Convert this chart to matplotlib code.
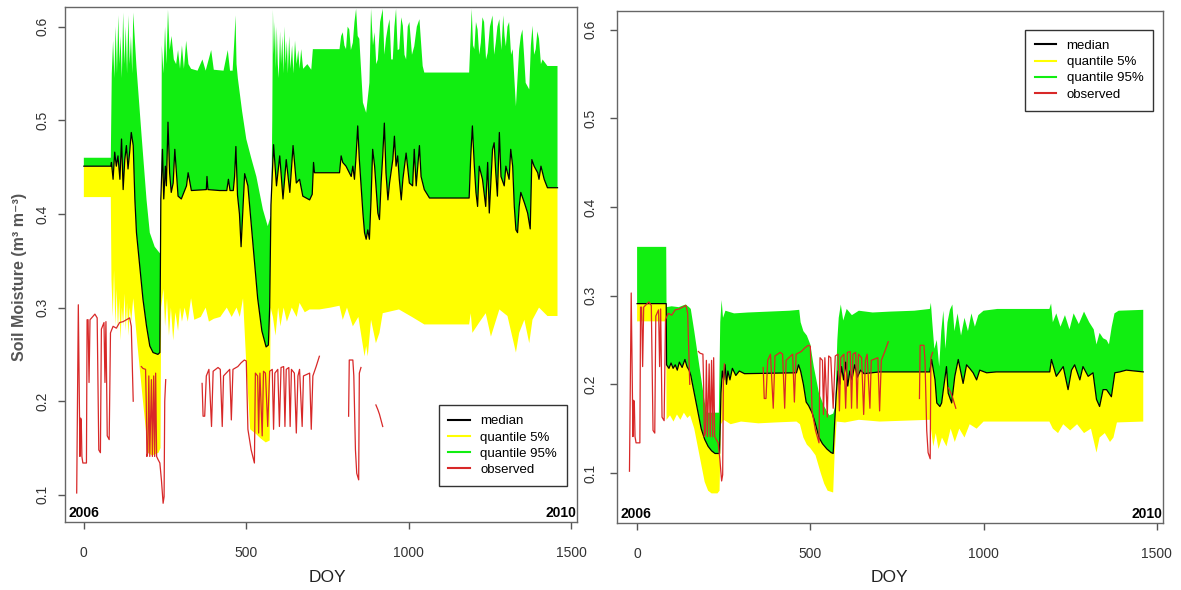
import numpy as np
import matplotlib.pyplot as plt
from matplotlib.lines import Line2D

plt.rcParams['font.family'] = ['Liberation Sans', 'DejaVu Sans']

# ---- left panel: quantiles (day, value) ----
lq95_day = [0, 83, 86, 90, 94, 98, 102, 106, 110, 113, 117, 121, 125, 129, 133, 137, 141, 145, 149, 152,
            162, 177, 193, 203, 218, 234, 238, 240, 245, 250, 254, 259, 264, 270, 277, 284, 290, 296, 302,
            308, 315, 322, 330, 350, 365, 375, 392, 400, 430, 443, 450, 458, 464, 467, 470, 474, 487, 500,
            515, 531, 551, 566, 577, 580, 582, 585, 588, 591, 594, 597, 600, 604, 607, 611, 614, 618, 621,
            625, 628, 632, 636, 641, 645, 650, 655, 660, 664, 669, 675, 688, 700, 705, 787, 792, 797, 802,
            807, 812, 817, 822, 828, 833, 838, 843, 848, 859, 869, 879, 884, 890, 895, 900, 905, 912, 920,
            925, 930, 936, 941, 946, 951, 956, 961, 966, 971, 977, 982, 987, 992, 997, 1002, 1010, 1017,
            1025, 1033, 1043, 1048, 1186, 1194, 1198, 1202, 1207, 1212, 1217, 1222, 1227, 1232, 1238, 1243,
            1250, 1258, 1263, 1268, 1273, 1279, 1285, 1291, 1295, 1299, 1304, 1309, 1315, 1320, 1330, 1340,
            1345, 1350, 1355, 1360, 1371, 1376, 1381, 1386, 1391, 1396, 1401, 1407, 1412, 1427, 1458]
lq95_val = [0.460, 0.460, 0.55, 0.585, 0.545, 0.60, 0.55, 0.612, 0.56, 0.59, 0.545, 0.615, 0.56, 0.60, 0.55,
            0.612, 0.56, 0.59, 0.55, 0.615, 0.557, 0.487, 0.415, 0.380, 0.365, 0.358, 0.36, 0.58, 0.55, 0.60,
            0.56, 0.618, 0.575, 0.59, 0.565, 0.56, 0.575, 0.555, 0.58, 0.555, 0.585, 0.56, 0.555, 0.553, 0.565,
            0.553, 0.575, 0.554, 0.553, 0.575, 0.553, 0.553, 0.59, 0.612, 0.56, 0.545, 0.51, 0.48, 0.46, 0.44,
            0.405, 0.387, 0.40, 0.50, 0.618, 0.57, 0.605, 0.555, 0.60, 0.56, 0.545, 0.595, 0.56, 0.59, 0.55,
            0.60, 0.56, 0.585, 0.55, 0.59, 0.555, 0.58, 0.55, 0.585, 0.56, 0.575, 0.555, 0.576, 0.555, 0.56,
            0.554, 0.576, 0.576, 0.59, 0.594, 0.58, 0.576, 0.60, 0.597, 0.575, 0.583, 0.605, 0.619, 0.59,
            0.587, 0.519, 0.508, 0.540, 0.619, 0.58, 0.594, 0.56, 0.565, 0.605, 0.619, 0.57, 0.587, 0.60,
            0.608, 0.565, 0.565, 0.60, 0.619, 0.575, 0.576, 0.61, 0.601, 0.57, 0.565, 0.60, 0.605, 0.57, 0.579,
            0.60, 0.608, 0.558, 0.551, 0.551, 0.619, 0.58, 0.576, 0.605, 0.597, 0.57, 0.583, 0.61, 0.605, 0.565,
            0.572, 0.60, 0.612, 0.57, 0.583, 0.60, 0.608, 0.575, 0.612, 0.59, 0.579, 0.60, 0.605, 0.57, 0.576,
            0.515, 0.576, 0.59, 0.597, 0.57, 0.540, 0.533, 0.58, 0.601, 0.57, 0.576, 0.595, 0.587, 0.56, 0.565,
            0.558, 0.558]

lmed_day = [0, 83, 85, 90, 95, 100, 105, 111, 116, 121, 126, 131, 136, 141, 146, 152, 157, 162, 172, 182,
            193, 203, 213, 228, 234, 237, 242, 246, 251, 254, 259, 264, 269, 275, 280, 290, 300, 316, 321,
            331, 377, 379, 382, 418, 440, 445, 450, 460, 464, 468, 473, 479, 484, 489, 495, 505, 520, 535,
            548, 561, 568, 572, 576, 584, 593, 603, 613, 623, 634, 644, 654, 664, 674, 695, 703, 707, 710,
            787, 792, 797, 807, 817, 823, 828, 833, 838, 843, 848, 859, 864, 869, 874, 879, 884, 889, 895,
            905, 910, 915, 920, 925, 930, 936, 941, 951, 956, 961, 966, 971, 977, 982, 992, 1002, 1012,
            1017, 1023, 1028, 1033, 1038, 1048, 1064, 1186, 1191, 1196, 1202, 1207, 1212, 1217, 1227, 1237,
            1243, 1248, 1258, 1263, 1268, 1273, 1279, 1284, 1294, 1299, 1309, 1314, 1320, 1325, 1330, 1335,
            1340, 1345, 1356, 1366, 1374, 1379, 1386, 1397, 1401, 1407, 1417, 1427, 1458]
lmed_val = [0.451, 0.451, 0.455, 0.437, 0.466, 0.451, 0.462, 0.437, 0.480, 0.426, 0.458, 0.473, 0.448, 0.466,
            0.487, 0.473, 0.416, 0.380, 0.344, 0.309, 0.280, 0.259, 0.252, 0.250, 0.252, 0.416, 0.469, 0.416,
            0.451, 0.430, 0.498, 0.444, 0.423, 0.433, 0.469, 0.419, 0.416, 0.430, 0.444, 0.425, 0.426, 0.44,
            0.426, 0.425, 0.425, 0.437, 0.425, 0.425, 0.44, 0.472, 0.42, 0.40, 0.365, 0.40, 0.443, 0.43, 0.37,
            0.31, 0.275, 0.258, 0.26, 0.30, 0.41, 0.474, 0.430, 0.462, 0.416, 0.458, 0.423, 0.473, 0.433,
            0.437, 0.419, 0.415, 0.421, 0.455, 0.444, 0.444, 0.462, 0.455, 0.451, 0.444, 0.440, 0.451, 0.437,
            0.462, 0.494, 0.458, 0.401, 0.380, 0.373, 0.383, 0.373, 0.415, 0.469, 0.451, 0.401, 0.394, 0.433,
            0.462, 0.497, 0.444, 0.415, 0.433, 0.458, 0.483, 0.451, 0.462, 0.437, 0.415, 0.437, 0.465, 0.433,
            0.430, 0.469, 0.430, 0.451, 0.473, 0.440, 0.426, 0.417, 0.417, 0.462, 0.494, 0.451, 0.423, 0.408,
            0.451, 0.437, 0.408, 0.455, 0.401, 0.469, 0.476, 0.444, 0.419, 0.487, 0.440, 0.430, 0.451, 0.437,
            0.469, 0.451, 0.408, 0.383, 0.380, 0.408, 0.423, 0.412, 0.401, 0.384, 0.458, 0.451, 0.444, 0.437,
            0.451, 0.437, 0.428, 0.428]

lq5_day = [0, 83, 85, 89, 93, 97, 101, 105, 109, 113, 117, 121, 125, 129, 133, 137, 141, 146, 152, 165, 182,
           198, 210, 230, 236, 238, 245, 250, 256, 262, 268, 275, 282, 290, 296, 302, 310, 320, 330, 340,
           360, 375, 385, 400, 420, 440, 455, 470, 480, 490, 500, 512, 530, 545, 560, 572, 575, 582, 590,
           598, 605, 615, 625, 640, 655, 664, 680, 695, 725, 760, 787, 797, 810, 828, 845, 864, 869, 874,
           884, 899, 910, 920, 970, 1010, 1048, 1186, 1191, 1196, 1217, 1237, 1253, 1279, 1304, 1330, 1340,
           1356, 1371, 1381, 1401, 1427, 1458]
lq5_val = [0.418, 0.418, 0.33, 0.29, 0.34, 0.28, 0.32, 0.275, 0.31, 0.265, 0.30, 0.28, 0.315, 0.275, 0.305,
           0.27, 0.30, 0.285, 0.31, 0.26, 0.20, 0.145, 0.142, 0.145, 0.15, 0.30, 0.32, 0.28, 0.31, 0.27, 0.30,
           0.265, 0.295, 0.275, 0.30, 0.285, 0.30, 0.285, 0.31, 0.287, 0.29, 0.30, 0.285, 0.288, 0.29, 0.30,
           0.29, 0.30, 0.29, 0.31, 0.24, 0.17, 0.165, 0.16, 0.156, 0.158, 0.30, 0.29, 0.27, 0.30, 0.28, 0.30,
           0.285, 0.30, 0.29, 0.305, 0.295, 0.298, 0.298, 0.30, 0.302, 0.287, 0.30, 0.28, 0.29, 0.248, 0.259,
           0.248, 0.287, 0.262, 0.273, 0.294, 0.298, 0.29, 0.282, 0.282, 0.294, 0.273, 0.284, 0.294, 0.269,
           0.298, 0.291, 0.252, 0.273, 0.287, 0.262, 0.287, 0.30, 0.291, 0.291]

# ---- right panel: quantiles (day, value) ----
rq95_day = [0, 84, 85, 100, 120, 140, 150, 155, 165, 180, 195, 202, 236, 240, 244, 248, 255, 280, 320, 380,
            440, 468, 472, 480, 490, 500, 510, 525, 540, 555, 566, 572, 578, 582, 588, 595, 605, 620, 640,
            680, 730, 800, 845, 848, 852, 858, 865, 872, 878, 884, 890, 896, 903, 910, 916, 925, 935, 945,
            955, 965, 975, 985, 1000, 1040, 1100, 1190, 1195, 1200, 1210, 1222, 1235, 1248, 1260, 1275, 1290,
            1305, 1318, 1326, 1335, 1345, 1355, 1362, 1370, 1378, 1390, 1461]
rq95_val = [0.355, 0.355, 0.287, 0.288, 0.287, 0.29, 0.287, 0.285, 0.26, 0.22, 0.18, 0.168, 0.168, 0.27,
            0.295, 0.275, 0.283, 0.28, 0.281, 0.282, 0.283, 0.284, 0.27, 0.26, 0.255, 0.245, 0.22, 0.19, 0.175,
            0.165, 0.167, 0.175, 0.25, 0.275, 0.29, 0.272, 0.285, 0.278, 0.283, 0.281, 0.282, 0.283, 0.285,
            0.292, 0.27, 0.24, 0.25, 0.22, 0.26, 0.283, 0.24, 0.27, 0.284, 0.29, 0.26, 0.28, 0.255, 0.275, 0.26,
            0.28, 0.265, 0.278, 0.283, 0.285, 0.285, 0.285, 0.291, 0.27, 0.28, 0.265, 0.278, 0.262, 0.28,
            0.268, 0.282, 0.27, 0.262, 0.245, 0.258, 0.252, 0.25, 0.245, 0.265, 0.28, 0.283, 0.284]

rmed_day = [0, 84, 85, 92, 98, 104, 110, 116, 122, 130, 138, 144, 150, 155, 165, 175, 185, 195, 205, 215,
            225, 238, 242, 246, 250, 254, 258, 262, 268, 275, 285, 295, 310, 460, 466, 472, 480, 488, 495,
            505, 515, 525, 535, 548, 560, 566, 570, 575, 580, 585, 590, 596, 602, 608, 614, 620, 628, 636,
            645, 655, 700, 845, 850, 860, 865, 874, 879, 884, 893, 898, 908, 917, 927, 941, 951, 960, 970,
            980, 989, 1009, 1037, 1191, 1196, 1210, 1230, 1244, 1254, 1263, 1278, 1287, 1302, 1316, 1326,
            1335, 1345, 1355, 1369, 1379, 1393, 1412, 1461]
rmed_val = [0.291, 0.291, 0.222, 0.218, 0.224, 0.218, 0.222, 0.216, 0.225, 0.219, 0.228, 0.22, 0.216, 0.21,
            0.19, 0.17, 0.15, 0.138, 0.13, 0.125, 0.122, 0.122, 0.19, 0.215, 0.205, 0.222, 0.2, 0.215, 0.205,
            0.218, 0.21, 0.215, 0.212, 0.213, 0.222, 0.215, 0.2, 0.18, 0.176, 0.168, 0.155, 0.14, 0.133, 0.127,
            0.123, 0.122, 0.155, 0.19, 0.215, 0.2, 0.22, 0.205, 0.225, 0.198, 0.215, 0.205, 0.222, 0.208,
            0.216, 0.212, 0.214, 0.214, 0.228, 0.205, 0.179, 0.175, 0.179, 0.194, 0.220, 0.190, 0.179, 0.209,
            0.228, 0.201, 0.222, 0.218, 0.213, 0.205, 0.216, 0.213, 0.214, 0.214, 0.228, 0.209, 0.22, 0.194,
            0.216, 0.222, 0.205, 0.22, 0.209, 0.213, 0.183, 0.175, 0.194, 0.194, 0.186, 0.213, 0.214, 0.216,
            0.214]

rq5_day = [0, 84, 85, 95, 105, 115, 125, 135, 145, 153, 165, 175, 185, 195, 205, 215, 232, 238, 242, 250,
           270, 300, 350, 400, 460, 470, 480, 490, 500, 515, 530, 540, 550, 566, 570, 576, 600, 640, 700,
           845, 855, 862, 870, 880, 893, 905, 917, 930, 945, 960, 980, 1000, 1190, 1200, 1215, 1230, 1250,
           1270, 1290, 1310, 1326, 1335, 1350, 1365, 1375, 1385, 1461]
rq5_val = [0.271, 0.271, 0.16, 0.165, 0.158, 0.166, 0.16, 0.168, 0.162, 0.165, 0.15, 0.13, 0.11, 0.09, 0.08,
           0.077, 0.077, 0.08, 0.155, 0.16, 0.155, 0.158, 0.156, 0.157, 0.158, 0.155, 0.14, 0.132, 0.128, 0.12,
           0.1, 0.088, 0.08, 0.078, 0.12, 0.158, 0.157, 0.16, 0.158, 0.16, 0.13, 0.145, 0.127, 0.14, 0.13,
           0.15, 0.135, 0.15, 0.14, 0.155, 0.15, 0.158, 0.158, 0.15, 0.145, 0.155, 0.148, 0.155, 0.145, 0.15,
           0.123, 0.14, 0.145, 0.135, 0.14, 0.157, 0.158]

# ---- observed soil moisture (same in both panels, nan = gap) ----
nan = np.nan
obs_day = [-22, -17, -12, -10, -8, -6, -3, 8, 10, 13, 16, 19, 34, 41, 46, 51, 54, 62, 65, 68, 72, 78, 82, 90,
           100, 110, 121, 131, 141, 146, 152, 160,
           177, 182, 190, 192, 194, 197, 200, 203, 208, 211, 215, 218, 221, 224, 228, 234, 239, 244, 247, 249,
           252, 300,
           364, 367, 372, 377, 385, 393, 398, 413, 420, 426, 430, 449, 454, 459, 474, 484, 494, 500, 505, 515,
           525, 528, 535, 538, 542, 549, 553, 559, 566, 572, 580, 584, 588, 597, 602, 607, 615, 619, 623, 631,
           635, 639, 648, 654, 659, 664, 672, 676, 695, 700, 705, 715, 725, 770,
           815, 817, 828, 831, 836, 840, 846, 848, 853, 870,
           899, 905, 910, 920]
obs_val = [0.102, 0.303, 0.141, 0.182, 0.18, 0.141, 0.134, 0.134, 0.287, 0.287, 0.22, 0.287, 0.293, 0.289,
           0.148, 0.145, 0.277, 0.284, 0.22, 0.285, 0.163, 0.159, 0.273, 0.28, 0.278, 0.284, 0.285, 0.287,
           0.289, 0.28, 0.20, nan,
           0.237, 0.235, 0.234, 0.20, 0.141, 0.145, 0.227, 0.141, 0.223, 0.141, 0.227, 0.141, 0.23, 0.141,
           0.138, 0.134, 0.115, 0.091, 0.098, 0.20, 0.223, nan,
           0.219, 0.184, 0.184, 0.227, 0.234, 0.173, 0.232, 0.236, 0.234, 0.173, 0.227, 0.234, 0.180, 0.234,
           0.237, 0.241, 0.244, 0.243, 0.17, 0.148, 0.134, 0.23, 0.227, 0.166, 0.23, 0.163, 0.232, 0.23, 0.173,
           0.232, 0.234, 0.17, 0.23, 0.234, 0.173, 0.236, 0.237, 0.173, 0.234, 0.236, 0.173, 0.234, 0.23, 0.166,
           0.227, 0.234, 0.173, 0.227, 0.23, 0.17, 0.227, 0.237, 0.248, nan,
           0.184, 0.244, 0.244, 0.227, 0.148, 0.123, 0.116, 0.23, 0.236, nan,
           0.196, 0.191, 0.186, 0.173]

GREEN = '#11ee11'
YELLOW = '#ffff00'
RED = '#d82828'
GREY = '#555555'


def panel(ax, q95d, q95v, medd, medv, q5d, q5v, ylim, ypad):
    ax.fill(np.r_[q95d, medd[::-1]], np.r_[q95v, medv[::-1]], color=GREEN, lw=0)
    ax.fill(np.r_[medd, q5d[::-1]], np.r_[medv, q5v[::-1]], color=YELLOW, lw=0)
    ax.plot(medd, medv, color='black', lw=0.9)
    ax.plot(obs_day, obs_val, color=RED, lw=0.9)
    ax.set_xlim(-58, 1518)
    ax.set_ylim(*ylim)
    ax.set_xticks([0, 500, 1000, 1500])
    ax.set_yticks([0.1, 0.2, 0.3, 0.4, 0.5, 0.6])
    ax.tick_params(axis='x', length=5, width=1, color=GREY, labelcolor='#333333', labelsize=10, pad=12)
    ax.tick_params(axis='y', length=5, width=1, color=GREY, labelcolor='#333333', labelsize=10, pad=ypad)
    plt.setp(ax.get_yticklabels(), rotation=90, va='center')
    for s in ax.spines.values():
        s.set_color('#666666')
        s.set_linewidth(1)
    ax.text(0.006, 0.004, '2006', transform=ax.transAxes, fontsize=10, fontweight='bold', ha='left', va='bottom')
    ax.text(0.999, 0.004, '2010', transform=ax.transAxes, fontsize=10, fontweight='bold', ha='right', va='bottom')


fig = plt.figure(figsize=(11.81, 5.9), dpi=100)
ax1 = fig.add_axes([65 / 1181, 68 / 590, 512 / 1181, 515 / 590])
ax2 = fig.add_axes([617 / 1181, 67 / 590, 546 / 1181, 512 / 590])

panel(ax1, lq95_day, lq95_val, lmed_day, lmed_val, lq5_day, lq5_val, (0.071, 0.621), 6)
panel(ax2, rq95_day, rq95_val, rmed_day, rmed_val, rq5_day, rq5_val, (0.0436, 0.621), 9)

handles = [Line2D([], [], color='black', lw=1.5), Line2D([], [], color=YELLOW, lw=1.5),
           Line2D([], [], color=GREEN, lw=1.5), Line2D([], [], color=RED, lw=1.5)]
labels = ['median', 'quantile 5%', 'quantile 95%', 'observed']
leg_kw = dict(fontsize=9.5, frameon=True, fancybox=False, framealpha=1, edgecolor='#333333',
              handlelength=1.6, handletextpad=0.8, labelspacing=0.3, borderpad=0.75, borderaxespad=0)
l1 = ax1.legend(handles, labels, loc='lower right', bbox_to_anchor=(0.98, 0.07), **leg_kw)
l2 = ax2.legend(handles, labels, loc='upper right', bbox_to_anchor=(0.982, 0.963), **leg_kw)
for lg in (l1, l2):
    lg.get_frame().set_linewidth(1)

fig.text(327 / 1181, 1 - 577 / 590, 'DOY', fontsize=12.5, ha='center', va='center', color='#222222')
fig.text(889 / 1181, 1 - 577 / 590, 'DOY', fontsize=12.5, ha='center', va='center', color='#222222')
fig.text(20 / 1181, 1 - 277 / 590, 'Soil Moisture (m³ m⁻³)', rotation=90, fontsize=11.5,
         fontweight='bold', ha='center', va='center', color=GREY)

fig.savefig('out.png', dpi=100)
